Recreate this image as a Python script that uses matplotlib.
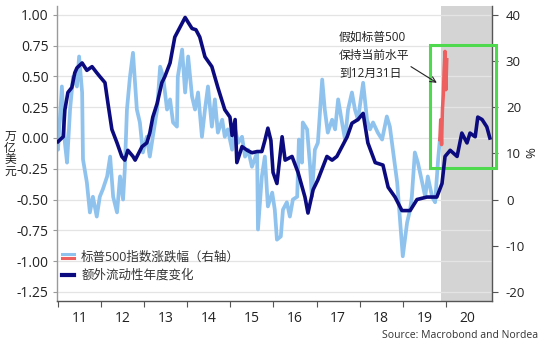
import matplotlib
matplotlib.use("Agg")
import matplotlib.pyplot as plt
from matplotlib.lines import Line2D
from matplotlib.legend_handler import HandlerBase
from matplotlib.patches import Rectangle

plt.rcParams['font.family'] = ['Open Sans', 'Noto Sans CJK SC', 'DejaVu Sans']

# ---------------- data ----------------
# Extra liquidity, annual change (trillion USD, left axis)
liq_x = [2011.00, 2011.12, 2011.16, 2011.23, 2011.32, 2011.39, 2011.44, 2011.56, 2011.67, 2011.79,
         2011.90, 2011.97, 2012.09, 2012.16, 2012.25, 2012.37, 2012.48, 2012.55, 2012.62, 2012.74,
         2012.79, 2012.95, 2013.06, 2013.13, 2013.20, 2013.30, 2013.41, 2013.48, 2013.60, 2013.71,
         2013.83, 2013.95, 2014.02, 2014.11, 2014.20, 2014.29, 2014.41, 2014.57, 2014.71, 2014.87,
         2014.99, 2015.04, 2015.11, 2015.15, 2015.27, 2015.39, 2015.50, 2015.62, 2015.73, 2015.80,
         2015.87, 2015.94, 2015.99, 2016.08, 2016.20, 2016.27, 2016.43, 2016.57, 2016.73, 2016.80,
         2016.92, 2017.03, 2017.24, 2017.36, 2017.47, 2017.59, 2017.71, 2017.82, 2017.96, 2018.08,
         2018.19, 2018.36, 2018.54, 2018.66, 2018.82, 2018.98, 2019.17, 2019.33, 2019.56, 2019.79,
         2019.91, 2019.98, 2020.10, 2020.26, 2020.37, 2020.49, 2020.56, 2020.68, 2020.74, 2020.84,
         2020.95, 2021.02]
liq_y = [-0.03, 0.01, 0.23, 0.37, 0.41, 0.53, 0.57, 0.61, 0.55, 0.58,
         0.53, 0.50, 0.45, 0.28, 0.07, -0.04, -0.15, -0.18, -0.10, -0.15,
         -0.18, -0.07, -0.04, 0.04, 0.17, 0.28, 0.45, 0.50, 0.61, 0.82,
         0.90, 0.98, 0.94, 0.89, 0.88, 0.82, 0.66, 0.58, 0.41, 0.23,
         0.17, 0.02, 0.15, -0.20, -0.07, -0.10, -0.12, -0.11, -0.11, -0.02,
         0.08, -0.02, -0.28, -0.37, 0.01, -0.18, -0.15, -0.28, -0.48, -0.61,
         -0.42, -0.34, -0.15, -0.18, -0.15, -0.07, 0.01, 0.12, 0.15, 0.20,
         -0.04, -0.20, -0.22, -0.40, -0.48, -0.59, -0.59, -0.50, -0.48, -0.48,
         -0.37, -0.15, -0.10, -0.15, 0.04, -0.04, 0.04, 0.01, 0.17, 0.15,
         0.09, 0.00]

# S&P 500 YoY change (%, right axis)
spx_x = [2010.98, 2011.00, 2011.09, 2011.16, 2011.21, 2011.28, 2011.35, 2011.44, 2011.49, 2011.56,
         2011.58, 2011.67, 2011.74, 2011.81, 2011.90, 2011.97, 2012.04, 2012.14, 2012.21, 2012.28,
         2012.37, 2012.44, 2012.51, 2012.55, 2012.60, 2012.67, 2012.74, 2012.83, 2012.90, 2012.97,
         2013.06, 2013.13, 2013.20, 2013.30, 2013.37, 2013.44, 2013.53, 2013.60, 2013.67, 2013.76,
         2013.78, 2013.88, 2013.95, 2014.02, 2014.11, 2014.18, 2014.25, 2014.34, 2014.41, 2014.48,
         2014.57, 2014.64, 2014.71, 2014.81, 2014.87, 2014.94, 2015.04, 2015.11, 2015.18, 2015.27,
         2015.34, 2015.41, 2015.50, 2015.62, 2015.64, 2015.73, 2015.80, 2015.87, 2015.97, 2016.03,
         2016.08, 2016.17, 2016.22, 2016.31, 2016.38, 2016.45, 2016.55, 2016.59, 2016.66, 2016.68,
         2016.78, 2016.85, 2016.89, 2016.96, 2017.03, 2017.13, 2017.19, 2017.26, 2017.36, 2017.43,
         2017.50, 2017.59, 2017.66, 2017.73, 2017.82, 2017.89, 2017.96, 2018.08, 2018.17, 2018.24,
         2018.31, 2018.42, 2018.52, 2018.63, 2018.70, 2018.77, 2018.87, 2018.93, 2019.00, 2019.10,
         2019.17, 2019.21, 2019.28, 2019.35, 2019.45, 2019.52, 2019.58, 2019.68, 2019.75, 2019.82,
         2019.86]
spx_y = [13.0, 10.8, 24.5, 12.3, 8.0, 19.5, 26.6, 24.5, 31.0, 23.2,
         8.7, 3.7, -2.8, 0.6, -3.7, 0.6, 2.2, 5.0, 9.3, 0.6,
         -2.8, 5.0, 0.0, 6.5, 19.5, 26.6, 31.8, 19.5, 16.7, 10.2,
         13.6, 9.3, 13.6, 19.5, 28.8, 26.6, 19.5, 21.7, 16.7, 15.8,
         26.6, 32.5, 23.2, 31.0, 22.3, 19.5, 23.2, 13.6, 19.5, 24.5,
         15.8, 21.7, 14.5, 17.3, 13.6, 15.2, 10.8, 15.2, 12.3, 13.6,
         9.3, 10.8, 7.1, 10.2, -6.5, 5.0, 9.3, -1.5, 1.5, -2.2,
         -8.7, -8.0, -2.2, -0.6, -3.7, 0.0, 0.6, 13.0, 8.0, 16.7,
         15.2, 7.1, 0.6, 10.8, 12.3, 26.0, 19.5, 14.5, 17.3, 15.2,
         21.7, 16.7, 13.0, 19.5, 23.2, 19.5, 17.3, 25.3, 17.3, 15.2,
         16.7, 14.5, 13.0, 18.0, 15.8, 10.8, 3.7, -3.7, -12.3, -5.0,
         -2.2, 0.6, 10.2, 8.0, 3.7, 0.6, 5.0, 0.6, -0.6, 8.7,
         13.0]

# S&P 500 YoY if index stays flat until Dec 31 (%, right axis)
proj_x = [2019.86, 2019.88, 2019.90, 2019.92, 2019.94, 2019.96, 2019.98, 2020.00, 2020.02]
proj_y = [13.0, 17.3, 11.9, 19.5, 22.7, 28.2, 32.1, 23.8, 30.3]

year_ticks = list(range(2011, 2021))
year_labels = ['11', '12', '13', '14', '15', '16', '17', '18', '19', '20']
left_ticks = [1.00, 0.75, 0.50, 0.25, 0.00, -0.25, -0.50, -0.75, -1.00, -1.25]
right_ticks = [40, 30, 20, 10, 0, -10, -20]

LIGHT = '#8fc3ee'
NAVY = '#0b0b7f'
RED = '#ee5f5f'
GREEN = '#4fd94f'
TXT = '#222222'

# ---------------- figure ----------------
fig = plt.figure(figsize=(5.5, 3.54), dpi=100)
ax = fig.add_axes([57/550, 1 - 301/354, (492 - 57)/550, (301 - 6)/354])
ax2 = ax.twinx()

xmin, xmax = 2010.977, 2021.07
lmin, lmax = -1.325, 1.073
conv = lambda v: 40 + (v - 1.0) * (60 / 2.25)
ax.set_xlim(xmin, xmax)
ax.set_ylim(lmin, lmax)
ax2.set_ylim(conv(lmin), conv(lmax))

ax.set_zorder(ax2.get_zorder() + 1)
ax.patch.set_visible(False)

# shaded period and gridlines (on the lower axes)
ax2.axvspan(2019.89, xmax, color='#d4d4d4', zorder=0, lw=0)
for t in left_ticks:
    ax2.axhline(conv(t), color='#e4e4e4', lw=0.9, zorder=0.5)

# series
ax2.plot(spx_x, spx_y, color=LIGHT, lw=2.7, solid_joinstyle='round', zorder=2)
ax2.plot(proj_x, proj_y, color=RED, lw=2.5, solid_joinstyle='round', zorder=3)
ax.plot(liq_x, liq_y, color=NAVY, lw=2.6, solid_joinstyle='round', zorder=4)

# axis styling
for a in (ax, ax2):
    a.spines['top'].set_visible(False)
ax.spines['left'].set_color('#9a9a9a')
ax.spines['bottom'].set_color('#555555')
ax.spines['right'].set_visible(False)
ax2.spines['left'].set_visible(False)
ax2.spines['bottom'].set_visible(False)
ax2.spines['right'].set_color('#555555')
for s in ('left', 'bottom'):
    ax.spines[s].set_linewidth(1.0)
ax2.spines['right'].set_linewidth(1.0)

ax.set_yticks(left_ticks)
ax.set_yticklabels([f'{t:.2f}' for t in left_ticks])
ax.tick_params(axis='y', length=3, width=0.8, color='#9a9a9a', pad=3, labelsize=10, labelcolor=TXT)

ax2.set_yticks(right_ticks)
ax2.set_yticklabels([str(t) for t in right_ticks])
ax2.tick_params(axis='y', length=4, width=0.8, color='#555555', pad=6, labelsize=9.5, labelcolor=TXT)

ax.set_xticks(year_ticks)
ax.set_xticklabels([])
ax.set_xticks([y + 0.5 for y in year_ticks], minor=True)
ax.set_xticklabels(year_labels, minor=True)
ax.tick_params(axis='x', which='major', length=4, width=0.8, color='#555555', direction='out')
ax.tick_params(axis='x', which='minor', length=0, pad=7, labelsize=10, labelcolor=TXT)

# green highlight box
rect = Rectangle((2019.63, 6.9), 2021.16 - 2019.63, 33.4 - 6.9, fill=False,
                 edgecolor=GREEN, lw=2.2, clip_on=False, zorder=6)
ax2.add_patch(rect)

# annotation
ax2.text(2017.52, 31.2, '假如标普500\n保持当前水平\n到12月31日', fontsize=8.5, color=TXT,
         ha='left', va='center', linespacing=1.5, zorder=7)
ax2.annotate('', xy=(2019.79, 25.3), xytext=(2019.19, 28.8),
             arrowprops=dict(arrowstyle='->', color='#222222', lw=0.8, shrinkA=0, shrinkB=0),
             zorder=7)

# axis labels
fig.text(10/550, 1 - 154/354, '万\n亿\n美\n元', fontsize=8.5, color=TXT, ha='center', va='center',
         linespacing=0.88)
fig.text(532/550, 1 - 153/354, '%', fontsize=9.5, color=TXT, ha='center', va='center', rotation=90)

# legend with stacked light-blue / red handle
class StackHandler(HandlerBase):
    def create_artists(self, legend, orig_handle, xdescent, ydescent, width, height, fontsize, trans):
        x0, x1 = -xdescent, -xdescent + width
        l1 = Line2D([x0, x1], [-ydescent + 0.72 * height] * 2, color=LIGHT, lw=2.2, transform=trans)
        l2 = Line2D([x0, x1], [-ydescent + 0.30 * height] * 2, color=RED, lw=2.2, transform=trans)
        return [l1, l2]

h1 = Line2D([], [], color=LIGHT)
h2 = Line2D([], [], color=NAVY, lw=3.0)
leg = ax.legend([h1, h2], ['标普500指数涨跌幅（右轴）', '额外流动性年度变化'],
                handler_map={h1: StackHandler()}, loc='lower left', bbox_to_anchor=(0.008, 0.058),
                frameon=False, fontsize=9, handlelength=0.9, handletextpad=0.6, labelspacing=0.45,
                borderaxespad=0.0, borderpad=0.15)
for t in leg.get_texts():
    t.set_color('#333333')

fig.text(538/550, 1 - 335/354, 'Source: Macrobond and Nordea', fontsize=7.5, color='#333333',
         ha='right', va='center')

fig.savefig('out.png', dpi=100)
